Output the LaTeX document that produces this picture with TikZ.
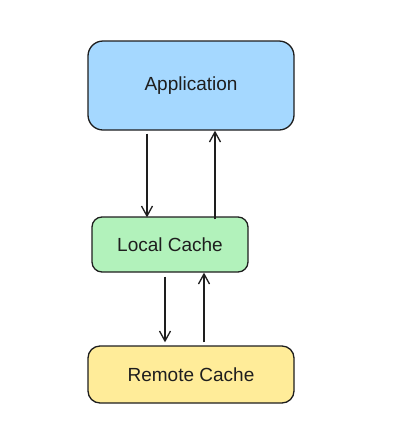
\documentclass[tikz,border=0pt]{standalone}
\usepackage{fontspec}
\setmainfont{Liberation Sans}
\usetikzlibrary{arrows.meta}
\definecolor{ink}{HTML}{1E1E1E}
\definecolor{appblue}{HTML}{A5D8FF}
\definecolor{localgreen}{HTML}{B2F2BB}
\definecolor{remoteyellow}{HTML}{FFEC99}
\tikzset{>={Straight Barb[length=10pt,width=11pt]}}
\tikzset{
  cachebox/.style={draw=ink, line width=1.3pt, rounded corners=12pt,
    inner sep=0pt, font=\fontsize{19}{22}\selectfont, text=ink},
  flow/.style={->, draw=ink, line width=1.3pt}
}

\begin{document}
\begin{tikzpicture}[x=1pt, y=-1pt]
    \useasboundingbox (0,0) rectangle (408,440);
    \node[cachebox, fill=appblue, minimum width=206pt, minimum height=89pt,
      rounded corners=15pt] (app) at (191,85.5) {Application};
    \node[cachebox, fill=localgreen, minimum width=156pt, minimum height=55pt,
      rounded corners=10pt] (local) at (170,244.5) {Local Cache};
    \node[cachebox, fill=remoteyellow, minimum width=206pt, minimum height=57pt] (remote) at (191,374.5) {Remote Cache};
    \draw[flow] ([xshift=-44pt, yshift=-3pt]app.south) -- ([xshift=-23pt, yshift=-1pt]local.north);
    \draw[flow] ([xshift=45pt, yshift=-3pt]local.north) -- ([xshift=24pt]app.south);
    \draw[flow] ([xshift=-5pt, yshift=-4pt]local.south) -- ([xshift=-26pt, yshift=3pt]remote.north);
    \draw[flow] ([xshift=13pt, yshift=3pt]remote.north) -- ([xshift=34pt]local.south);
\end{tikzpicture}
\end{document}
